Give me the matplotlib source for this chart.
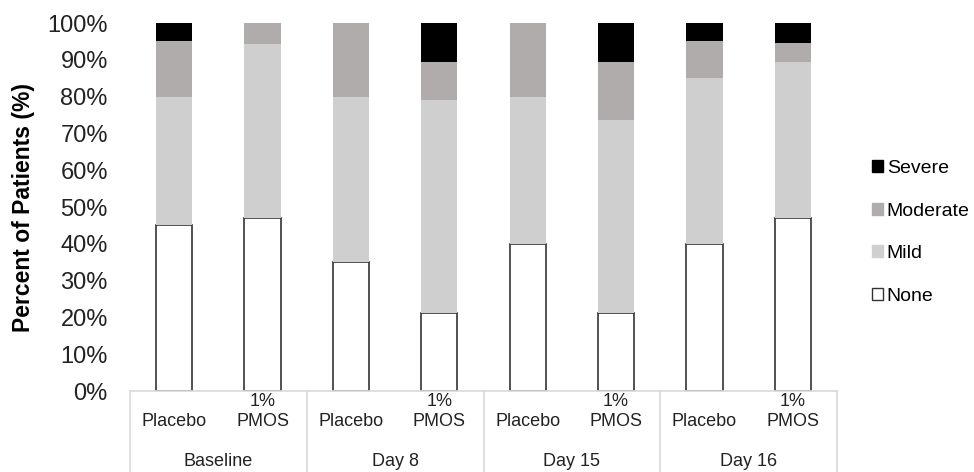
import matplotlib
matplotlib.use("Agg")
import matplotlib.pyplot as plt
import numpy as np
from matplotlib.patches import Patch

groups = ["Baseline", "Day 8", "Day 15", "Day 16"]
treatments = ["Placebo", "1%\nPMOS"]
none_vals = [45.0, 47.1, 35.0, 21.1, 40.0, 21.1, 40.0, 47.1]
mild_vals = [35.0, 47.1, 45.0, 57.9, 40.0, 52.6, 45.0, 42.3]
moderate_vals = [15.0, 5.8, 20.0, 10.5, 20.0, 15.8, 10.0, 5.2]
severe_vals = [5.0, 0.0, 0.0, 10.5, 0.0, 10.5, 5.0, 5.4]
yticks = [0, 10, 20, 30, 40, 50, 60, 70, 80, 90, 100]

plt.rcParams['font.family'] = ['Liberation Sans', 'DejaVu Sans']

fig = plt.figure(figsize=(9.74, 4.72), dpi=100)
W, H = 974, 472
ax_left, ax_right, ax_top, ax_bot = 130, 837, 23, 391
ax = fig.add_axes([ax_left / W, (H - ax_bot) / H, (ax_right - ax_left) / W, (ax_bot - ax_top) / H])

x = np.arange(len(none_vals))
w = 0.41
c_none, c_mild, c_mod, c_sev = "white", "#D0CFD0", "#AFACAB", "black"
none_arr = np.array(none_vals)
mild_arr = np.array(mild_vals)
mod_arr = np.array(moderate_vals)
sev_arr = np.array(severe_vals)

ax.bar(x, none_arr, w, color=c_none, edgecolor="#333333", linewidth=1.2, zorder=2)
ax.bar(x, mild_arr, w, bottom=none_arr, color=c_mild, linewidth=0, zorder=3)
ax.bar(x, mod_arr, w, bottom=none_arr + mild_arr, color=c_mod, linewidth=0, zorder=3)
ax.bar(x, sev_arr, w, bottom=none_arr + mild_arr + mod_arr, color=c_sev, linewidth=0, zorder=3)

ax.set_xlim(-0.5, len(none_vals) - 0.5)
ax.set_ylim(0, 100)
ax.set_yticks(yticks)
ax.set_yticklabels([f"{t}%" for t in yticks], fontsize=17, color="#222222")
ax.tick_params(axis='y', length=0, pad=16)
ax.set_xticks([])
for s in ["top", "right", "left"]:
    ax.spines[s].set_visible(False)
ax.spines["bottom"].set_color("#D9D9D9")
ax.spines["bottom"].set_linewidth(1.2)
ax.set_ylabel("Percent of Patients (%)", fontsize=16.5, fontweight="bold", labelpad=9)

ah = ax_bot - ax_top
def ay(ypix):
    return (ax_bot - ypix) / ah

trans = matplotlib.transforms.blended_transform_factory(ax.transData, ax.transAxes)
for i in range(len(none_vals)):
    lab = treatments[i % 2]
    lines = lab.split("\n")
    if len(lines) == 1:
        ax.text(x[i], ay(421), lines[0], transform=trans, ha="center", va="center", fontsize=13, color="#222222")
    else:
        ax.text(x[i], ay(401), lines[0], transform=trans, ha="center", va="center", fontsize=13, color="#222222")
        ax.text(x[i], ay(421), lines[1], transform=trans, ha="center", va="center", fontsize=13, color="#222222")
for g, name in enumerate(groups):
    ax.text(2 * g + 0.5, ay(462), name, transform=trans, ha="center", va="center", fontsize=13, color="#222222")

for b in np.arange(-0.5, len(none_vals), 2.0):
    ax.plot([b, b], [0, ay(H + 2)], transform=trans, color="#D9D9D9", lw=1.2, clip_on=False)

handles = [Patch(facecolor=c_sev, edgecolor=c_sev, label="Severe"),
           Patch(facecolor=c_mod, edgecolor=c_mod, label="Moderate"),
           Patch(facecolor=c_mild, edgecolor=c_mild, label="Mild"),
           Patch(facecolor=c_none, edgecolor="#333333", label="None")]
fig.legend(handles=handles, loc="center left", bbox_to_anchor=(864 / W, 1 - 232.5 / H),
           frameon=False, fontsize=14, handlelength=0.57, handleheight=0.57,
           handletextpad=0.2, labelspacing=1.32, borderaxespad=0)

fig.savefig("out.png", dpi=100)
